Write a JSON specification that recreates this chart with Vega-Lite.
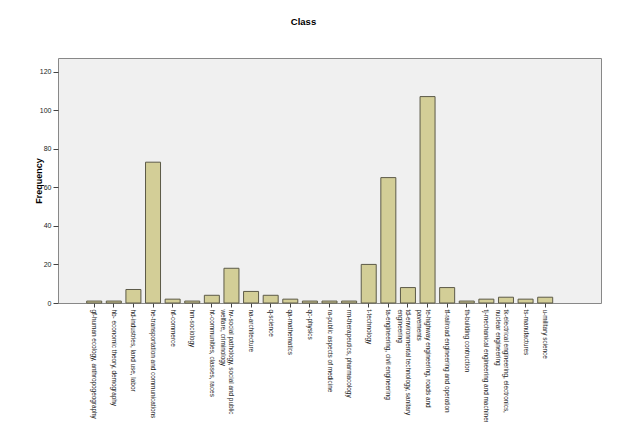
{
  "$schema": "https://vega.github.io/schema/vega-lite/v6.json",
  "autosize": "none",
  "padding": {"left": 58, "top": 58, "right": 39, "bottom": 119},
  "width": 543,
  "height": 245,
  "background": "white",
  "title": {"text": "Class", "anchor": "middle", "dx": -26, "offset": 24, "baseline": "alphabetic", "font": "Liberation Sans", "fontSize": 9.5, "fontWeight": "bold", "color": "#000000"},
  "config": {
    "view": {"fill": "#f0f0f0", "stroke": "#888888", "strokeWidth": 1},
    "axis": {"labelFont": "Liberation Sans", "titleFont": "Liberation Sans", "labelColor": "#222222", "tickColor": "#444444", "domainColor": "#444444", "grid": false}
  },
  "data": {
    "values": [
      {"cls": "gf-human ecology, anthropogeography", "freq": 1},
      {"cls": "hb- economic theory, demography", "freq": 1},
      {"cls": "hd-industries, land use, labor", "freq": 7},
      {"cls": "he-transportation and communications", "freq": 73},
      {"cls": "hf-commerce", "freq": 2},
      {"cls": "hm-sociology", "freq": 1},
      {"cls": "ht-communities, classes, races", "freq": 4},
      {"cls": "hv-social pathology, social and public welfare, criminology", "freq": 18},
      {"cls": "na-architecture", "freq": 6},
      {"cls": "q-science", "freq": 4},
      {"cls": "qa-mathematics", "freq": 2},
      {"cls": "qc-physics", "freq": 1},
      {"cls": "ra-public aspects of medicine", "freq": 1},
      {"cls": "rm-therapeutics, pharmacology", "freq": 1},
      {"cls": "t-technology", "freq": 20},
      {"cls": "ta-engineering, civil engineering", "freq": 65},
      {"cls": "td-environmental technology, sanitary engineering", "freq": 8},
      {"cls": "te-highway engineering, roads and pavements", "freq": 107},
      {"cls": "tf-railroad engineering and operation", "freq": 8},
      {"cls": "th-building contruction", "freq": 1},
      {"cls": "tj-mechanical engineering and machinery", "freq": 2},
      {"cls": "tk-electrical engineering, electronics, nuclear engineering", "freq": 3},
      {"cls": "ts-manufactures", "freq": 2},
      {"cls": "u-military science", "freq": 3}
    ]
  },
  "mark": {"type": "bar", "fill": "#d3ce97", "stroke": "#5c5a48", "strokeWidth": 1},
  "encoding": {
    "x": {
      "field": "cls", "type": "nominal", "sort": null,
      "scale": {"paddingInner": 0.235, "paddingOuter": 0, "range": [28.7, 494.7]},
      "axis": {
        "title": null, "labelAngle": 90, "labelFontSize": 6.4, "tickSize": 4, "domain": false, "labelPadding": 2, "labelLimit": 200,
        "labelExpr": "datum.label == 'hv-social pathology, social and public welfare, criminology' ? ['hv-social pathology, social and public', 'welfare, criminology'] : datum.label == 'td-environmental technology, sanitary engineering' ? ['td-environmental technology, sanitary', 'engineering'] : datum.label == 'te-highway engineering, roads and pavements' ? ['te-highway engineering, roads and', 'pavements'] : datum.label == 'tk-electrical engineering, electronics, nuclear engineering' ? ['tk-electrical engineering, electronics,', 'nuclear engineering'] : datum.label"
      }
    },
    "y": {
      "field": "freq", "type": "quantitative",
      "scale": {"domain": [0, 127], "nice": false},
      "axis": {"title": "Frequency", "values": [0, 20, 40, 60, 80, 100, 120], "labelFontSize": 7, "tickSize": 5, "domain": false, "titleFontSize": 9, "titleFontWeight": "bold", "titleColor": "#000000", "titlePadding": -4}
    }
  }
}
